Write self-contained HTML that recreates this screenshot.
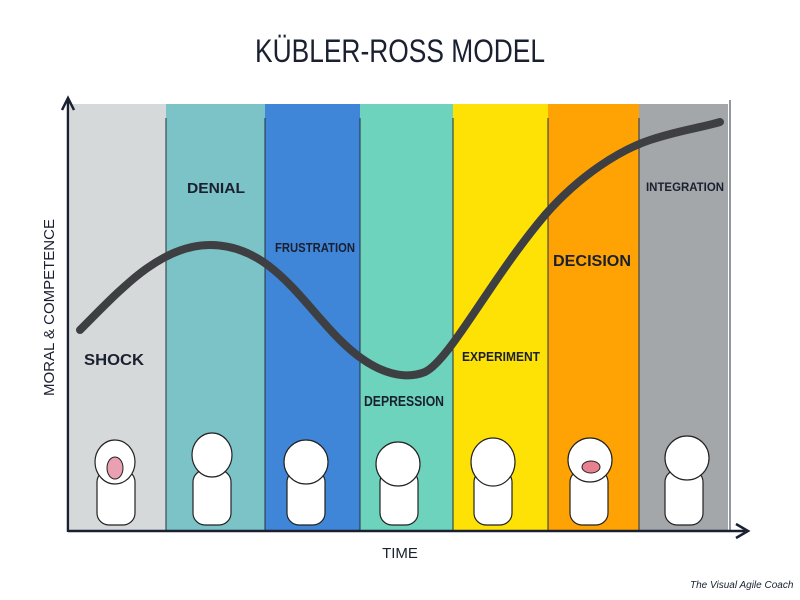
<!DOCTYPE html>
<html><head><meta charset="utf-8"><style>
body{margin:0;background:#fff;width:800px;height:600px;overflow:hidden}
svg{display:block}
text{font-family:"Liberation Sans",sans-serif;fill:#1a2030}
</style></head><body>
<svg width="800" height="600" viewBox="0 0 800 600">
<text x="400" y="62" font-size="32" text-anchor="middle" textLength="290" lengthAdjust="spacingAndGlyphs">KÜBLER-ROSS MODEL</text>
<rect x="70" y="104" width="96" height="426" fill="#d5d9da"/>
<rect x="166" y="104" width="99" height="426" fill="#7cc3c8"/>
<rect x="265" y="104" width="95" height="426" fill="#3f86d8"/>
<rect x="360" y="104" width="93" height="426" fill="#6dd3bd"/>
<rect x="453" y="104" width="95" height="426" fill="#ffe205"/>
<rect x="548" y="104" width="91" height="426" fill="#ffa305"/>
<rect x="639" y="104" width="89" height="426" fill="#a3a7a9"/>
<g stroke="#243040" stroke-width="1"><line x1="166" y1="118" x2="166" y2="530"/><line x1="265" y1="118" x2="265" y2="530"/><line x1="360" y1="118" x2="360" y2="530"/><line x1="453" y1="118" x2="453" y2="530"/><line x1="548" y1="118" x2="548" y2="530"/><line x1="639" y1="118" x2="639" y2="530"/><line x1="730" y1="100" x2="730" y2="530"/></g>
<path d="M80 330 C120 290 160 245 210 245 C270 245 300 300 340 340 C380 380 410 378 425 372 C450 360 490 280 545 215 C580 175 620 150 650 140 C680 130 700 128 720 122" fill="none" stroke="#3d3f42" stroke-width="8" stroke-linecap="round"/>
<g stroke="#1a2030" stroke-width="2.5" fill="none"><line x1="68" y1="100" x2="68" y2="532"/><polyline points="62,110 68,98 74,110"/><line x1="68" y1="531" x2="745" y2="531"/><polyline points="736,524 748,531 736,538"/></g>
<g font-weight="bold"><text x="84" y="365" font-size="16" textLength="60" lengthAdjust="spacingAndGlyphs">SHOCK</text><text x="187" y="193" font-size="15" textLength="58" lengthAdjust="spacingAndGlyphs">DENIAL</text><text x="275" y="252" font-size="13" textLength="80" lengthAdjust="spacingAndGlyphs">FRUSTRATION</text><text x="364" y="406" font-size="15" textLength="80" lengthAdjust="spacingAndGlyphs">DEPRESSION</text><text x="462" y="361" font-size="13" textLength="78" lengthAdjust="spacingAndGlyphs">EXPERIMENT</text><text x="553" y="266" font-size="16" textLength="78" lengthAdjust="spacingAndGlyphs">DECISION</text><text x="646" y="191" font-size="12" textLength="78" lengthAdjust="spacingAndGlyphs">INTEGRATION</text></g>
<text x="400" y="558" font-size="15" text-anchor="middle">TIME</text>
<text transform="translate(54,396) rotate(-90)" font-size="15">MORAL &amp; COMPETENCE</text>
<text x="690" y="588" font-size="10" font-style="italic">The Visual Agile Coach</text>
<g fill="#fff" stroke="#222" stroke-width="1.2">
<rect x="97" y="470" width="38" height="55" rx="12"/><ellipse cx="115" cy="462" rx="20" ry="22"/>
<rect x="193" y="470" width="38" height="55" rx="12"/><ellipse cx="212" cy="455" rx="20" ry="22"/>
<rect x="287" y="470" width="38" height="55" rx="12"/><ellipse cx="306" cy="462" rx="22" ry="22"/>
<rect x="380" y="470" width="38" height="55" rx="12"/><ellipse cx="398" cy="464" rx="22" ry="22"/>
<rect x="474" y="470" width="38" height="55" rx="12"/><ellipse cx="493" cy="462" rx="22" ry="24"/>
<rect x="570" y="470" width="38" height="55" rx="12"/><ellipse cx="590" cy="460" rx="22" ry="22"/>
<rect x="665" y="470" width="38" height="55" rx="12"/><ellipse cx="687" cy="458" rx="22" ry="22"/>
</g>
<ellipse cx="115" cy="468" rx="8" ry="11" fill="#e9a0b0" stroke="#222"/>
<ellipse cx="591" cy="467" rx="9" ry="6" fill="#e98090" stroke="#222"/>
</svg>
</body></html>
